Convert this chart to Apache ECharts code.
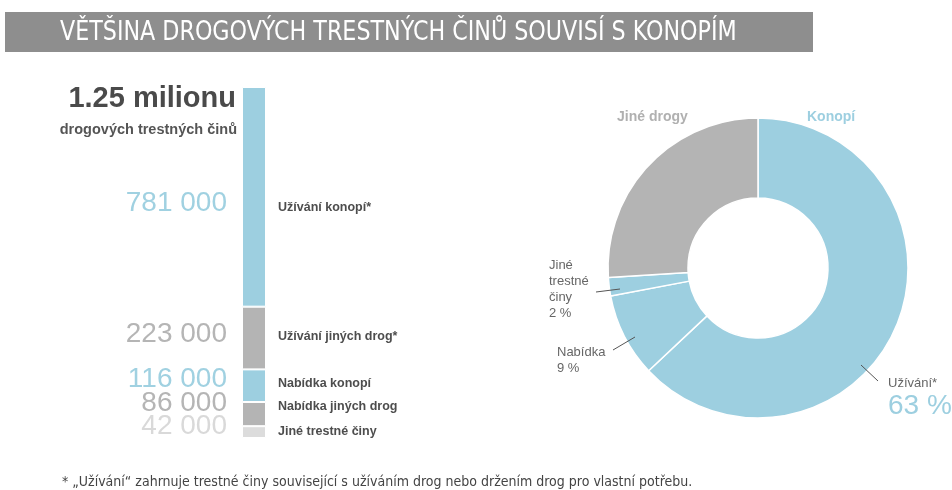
<!DOCTYPE html>
<html><head><meta charset="utf-8">
<script src="https://cdn.jsdelivr.net/npm/echarts@6/dist/echarts.min.js"></script>
<style>html,body{margin:0;padding:0;background:#fff}#c{width:952px;height:490px}</style>
</head><body><div id="c"></div>
<script>
// ---- data ----
const titleText = 'VĚTŠINA DROGOVÝCH TRESTNÝCH ČINŮ SOUVISÍ S KONOPÍM';
const totalHeadline = '1.25 milionu';
const totalSub = 'drogových trestných činů';
const barCategories = ['Jiné trestné činy', 'Nabídka jiných drog', 'Nabídka konopí', 'Užívání jiných drog*', 'Užívání konopí*'];
const barValues = [42000, 86000, 116000, 223000, 781000];
const pieNames = ['Užívání*', 'Nabídka', 'Jiné trestné činy', 'Jiné drogy'];
const pieValues = [63, 9, 2, 26];
const groupLabel = 'Konopí';
const footnote = '* \u201EUžívání\u201C zahrnuje trestné činy související s užíváním drog nebo držením drog pro vlastní potřebu.';

// ---- styles ----
const BLUE = '#9dcfe0', GREY = '#b4b4b4', LIGHT = '#dcdcdc';
const barColors = [LIGHT, GREY, BLUE, GREY, BLUE];
const numColors = ['#d9d9d9', '#b5b5b5', '#a0d1e1', '#b5b5b5', '#a0d1e1'];
const numOffsets = [-6, -11, -6, -4, 6];
const nameOffsets = [-1, -8, -2, -1, 11];
const FONT = '"Liberation Sans", Arial, sans-serif';
const NARROW = '"DejaVu Sans Condensed", "Liberation Sans", sans-serif';

const total = barValues.reduce((a, b) => a + b, 0);
const fmt = n => String(n).replace(/\B(?=(\d{3})+(?!\d))/g, ' ');

const series = [];
barValues.forEach((v, i) => {
  series.push({
    type: 'bar', stack: 'a', barWidth: 24, barGap: '-100%', silent: true,
    data: [v],
    itemStyle: { color: barColors[i], borderColor: '#fff', borderWidth: 1 },
    label: { show: true, position: 'left', distance: 15, offset: [0, numOffsets[i]],
      formatter: () => fmt(v), color: numColors[i], fontSize: 28, fontFamily: FONT }
  });
});
barValues.forEach((v, i) => {
  series.push({
    type: 'bar', stack: 'b', barWidth: 24, barGap: '-100%', silent: true,
    data: [v],
    itemStyle: { color: 'rgba(0,0,0,0)' },
    label: { show: true, position: 'right', distance: 12, offset: [0, nameOffsets[i]],
      formatter: () => barCategories[i], color: '#4d4d4d', fontSize: 12.5, fontWeight: 'bold', fontFamily: FONT }
  });
});

const pieLabelPos = [
  { x: 888, y: 375, line: [[861, 365], [878, 381]] },
  { x: 557, y: 344, line: [[635, 337], [613, 350]] },
  { x: 549, y: 257, line: [[620, 289], [596, 292]] },
  { x: 617, y: 109, line: null }
];
series.push({
  type: 'pie', center: [758, 268], radius: [70, 150], startAngle: 90, clockwise: true,
  silent: true,
  data: pieNames.map((n, i) => ({ name: n, value: pieValues[i],
    itemStyle: { color: i === 3 ? GREY : BLUE } })),
  itemStyle: { borderColor: '#fff', borderWidth: 1.5 },
  label: {
    show: true, position: 'outside', fontFamily: FONT, overflow: 'none',
    formatter: p => {
      if (p.dataIndex === 0) return '{n|' + p.name + '}\n{p|' + p.value + ' %}';
      if (p.dataIndex === 3) return '{g|' + p.name + '}';
      return p.name.split(' ').map(s => '{n|' + s + '}').join('\n') + '\n{n|' + p.value + ' %}';
    },
    rich: {
      n: { fontSize: 13, color: '#666', lineHeight: 16, fontFamily: FONT },
      p: { fontSize: 28, color: BLUE, lineHeight: 30, fontFamily: FONT },
      g: { fontSize: 14, color: '#b0b0b0', fontWeight: 'bold', lineHeight: 16, fontFamily: FONT }
    }
  },
  labelLine: { show: false },
  labelLayout: p => {
    const o = pieLabelPos[p.dataIndex];
    return { x: o.x, y: o.y, align: 'left', verticalAlign: 'top' };
  }
});

const leaderLines = pieLabelPos.filter(o => o.line).map(o => ({
  type: 'polyline', z: 100, silent: true,
  shape: { points: o.line },
  style: { stroke: '#555', lineWidth: 1, fill: null }
}));

const chart = echarts.init(document.getElementById('c'));
chart.setOption({
  animation: false,
  grid: { left: 242, width: 24, top: 87, bottom: 52 },
  xAxis: { type: 'category', data: ['x'], show: false },
  yAxis: { type: 'value', min: 0, max: total, show: false },
  series: series,
  graphic: [
    { type: 'rect', shape: { x: 5, y: 12, width: 808, height: 40 }, style: { fill: '#8e8e8e' } },
    { type: 'text', x: 60, y: 33, scaleX: 0.95, style: { text: titleText, fill: '#fff', fontSize: 26, fontFamily: NARROW, verticalAlign: 'middle' } },
    { type: 'text', x: 236, y: 99, style: { text: totalHeadline, fill: '#4a4a4a', fontSize: 29, fontWeight: 'bold', fontFamily: FONT, align: 'right', verticalAlign: 'middle' } },
    { type: 'text', x: 237, y: 130, style: { text: totalSub, fill: '#555', fontSize: 14.5, fontWeight: 'bold', fontFamily: FONT, align: 'right', verticalAlign: 'middle' } },
    { type: 'text', x: 807, y: 117, style: { text: groupLabel, fill: BLUE, fontSize: 14, fontWeight: 'bold', fontFamily: FONT, verticalAlign: 'middle' } },
    { type: 'text', x: 62, y: 482, style: { text: footnote, fill: '#444', fontSize: 14, fontFamily: NARROW, verticalAlign: 'middle' } }
  ].concat(leaderLines)
});
</script></body></html>
